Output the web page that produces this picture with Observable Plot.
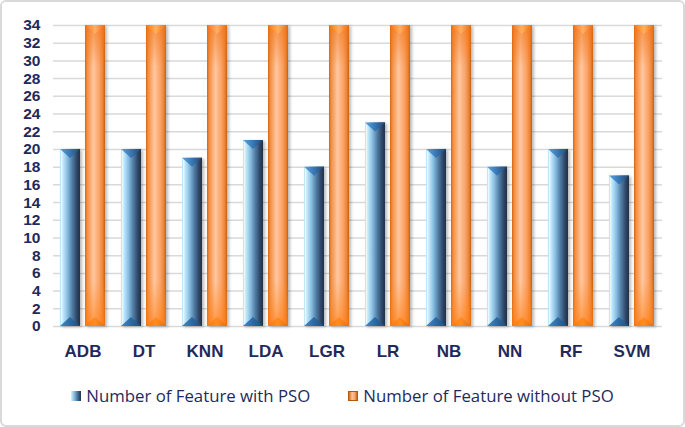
<!DOCTYPE html>
<html><head><meta charset="utf-8">
<script src="https://cdn.jsdelivr.net/npm/d3@7"></script>
<script src="https://cdn.jsdelivr.net/npm/@observablehq/plot@0.6"></script>
<style>
html,body{margin:0;padding:0;background:#fff;}
#frame{box-sizing:border-box;width:685px;height:427px;border:2px solid #d9d9d9;border-radius:6px;position:relative;overflow:hidden;background:#fff;}
#chart svg{display:block;}
#legend{position:absolute;left:0;right:0;top:383px;display:flex;justify-content:center;gap:38px;font-family:"Open Sans",sans-serif;font-size:16.8px;color:#1f2a5c;line-height:22px;}
#legend .item{display:flex;align-items:center;gap:5px;}
#legend .sw{flex:none;width:10px;height:10px;display:inline-block;box-sizing:border-box;}
#legend .sw.blue{background:linear-gradient(to right,#d8f2fc,#7fb6dc 35%,#3c5e82 75%,#23344f);}
#legend .sw.orange{background:linear-gradient(to right,#d06a1a,#ffc49a 40%,#f9a062 75%,#c8630f);border:1px solid #b05a10;}
</style>
</head><body>
<div id="frame"><div id="chart"></div><div id="legend"></div></div>
<script>
const categories = ["ADB","DT","KNN","LDA","LGR","LR","NB","NN","RF","SVM"];
const withPSO = [20,20,19,21,18,23,20,18,20,17];
const withoutPSO = [34,34,34,34,34,34,34,34,34,34];
const yTicks = [0,2,4,6,8,10,12,14,16,18,20,22,24,26,28,30,32,34];
const seriesNames = ["Number of Feature with PSO","Number of Feature without PSO"];

const blueData = categories.map((c,i)=>({cat:c, value:withPSO[i]}));
const orangeData = categories.map((c,i)=>({cat:c, value:withoutPSO[i]}));

const navy = "#1f2a5c";
const plot = Plot.plot({
  width: 681, height: 364,
  marginLeft: 42, marginRight: 13, marginTop: 23, marginBottom: 40,
  style: {fontFamily: "Liberation Sans, Arial, sans-serif", fontSize: "17px", fontWeight: "bold", color: navy, background: "#fff"},
  x: {domain: categories, padding: 0.262, label: null, tickSize: 0, tickPadding: 18},
  y: {domain: [0,34], ticks: yTicks, label: null, tickSize: 0, tickPadding: 4},
  marks: [
    Plot.ruleY(yTicks, {stroke: "#d9d9d9", strokeWidth: 1.5, insetLeft: 9, insetRight: 8}),
    Plot.barY(blueData, {x: "cat", y: "value", fill: "#4a7aa0", insetRight: 25, className: "bar-blue"}),
    Plot.barY(orangeData, {x: "cat", y: "value", fill: "#f79646", insetLeft: 25, className: "bar-orange"})
  ]
});
document.getElementById("chart").appendChild(plot);

// y tick labels: slightly smaller so neighbouring labels do not collide
d3.select(plot).selectAll("[aria-label='y-axis tick label'] text, [aria-label='y-axis tick label']").style("font-size", "15.5px");

// decorate bars with gradients and bevels
const svg = d3.select(plot);
const defs = svg.insert("defs", ":first-child");
function grad(id, stops, vertical){
  const g = defs.append("linearGradient").attr("id", id)
    .attr("x1",0).attr("y1",0).attr("x2", vertical?0:1).attr("y2", vertical?1:0);
  stops.forEach(([o,c,op])=>g.append("stop").attr("offset",o).attr("stop-color",c).attr("stop-opacity", op==null?1:op));
}
grad("gBlue", [[0,"#9fd8f2"],[0.06,"#effbff"],[0.14,"#c6eafa"],[0.35,"#8cc2e4"],[0.62,"#4f7aa2"],[0.85,"#2e4666"],[1,"#1f3049"]]);
grad("gBlueTop", [[0,"#5aa4de"],[0.5,"#3777b5"],[1,"#24486f"]]);
grad("gBlueBot", [[0,"#3d8ccc"],[0.5,"#2a6aa6"],[1,"#1d4d7c"]]);
grad("gOrange", [[0,"#d2650f"],[0.1,"#f38c3c"],[0.42,"#ffc7a0"],[0.72,"#fba265"],[0.9,"#ec8230"],[1,"#c25d0c"]]);
grad("gOrangeTop", [[0,"#f47a18"],[0.5,"#ffb060"],[1,"#e87010"]]);
grad("gOrangeBot", [[0,"#f37a12"],[0.5,"#ff8c22"],[1,"#e06e0e"]]);
grad("gOrangeV", [[0,"#f07010",0.6],[0.14,"#f07010",0],[0.85,"#ff8a20",0],[1,"#ff7a10",0.65]], true);
const f = defs.append("filter").attr("id","shadow").attr("x","-30%").attr("y","-5%").attr("width","160%").attr("height","110%");
f.append("feDropShadow").attr("dx",2).attr("dy",1).attr("stdDeviation",1.6).attr("flood-color","#000").attr("flood-opacity",0.28);

function decorate(cls, body, top, bot, overlay){
  svg.selectAll(`g.${cls} rect`).each(function(){
    const r = d3.select(this);
    const x = +r.attr("x"), y = +r.attr("y"), w = +r.attr("width"), h = +r.attr("height");
    const parent = d3.select(this.parentNode);
    r.attr("fill", `url(#${body})`).attr("filter","url(#shadow)");
    const g = parent.append("g");
    if (overlay) g.append("rect").attr("x",x).attr("y",y).attr("width",w).attr("height",h).attr("fill",`url(#${overlay})`);
    const d = 9;
    g.append("polygon").attr("points", `${x},${y} ${x+w},${y} ${x+w/2},${y+d}`).attr("fill", `url(#${top})`);
    g.append("polygon").attr("points", `${x},${y+h} ${x+w},${y+h} ${x+w/2},${y+h-d}`).attr("fill", `url(#${bot})`);
  });
}
decorate("bar-blue", "gBlue", "gBlueTop", "gBlueBot", null);
decorate("bar-orange", "gOrange", "gOrangeTop", "gOrangeBot", "gOrangeV");

// legend
const legend = d3.select("#legend");
seriesNames.forEach((name,i)=>{
  const it = legend.append("div").attr("class","item");
  it.append("span").attr("class", "sw " + (i===0?"blue":"orange"));
  it.append("span").text(name);
});
</script>
</body></html>
